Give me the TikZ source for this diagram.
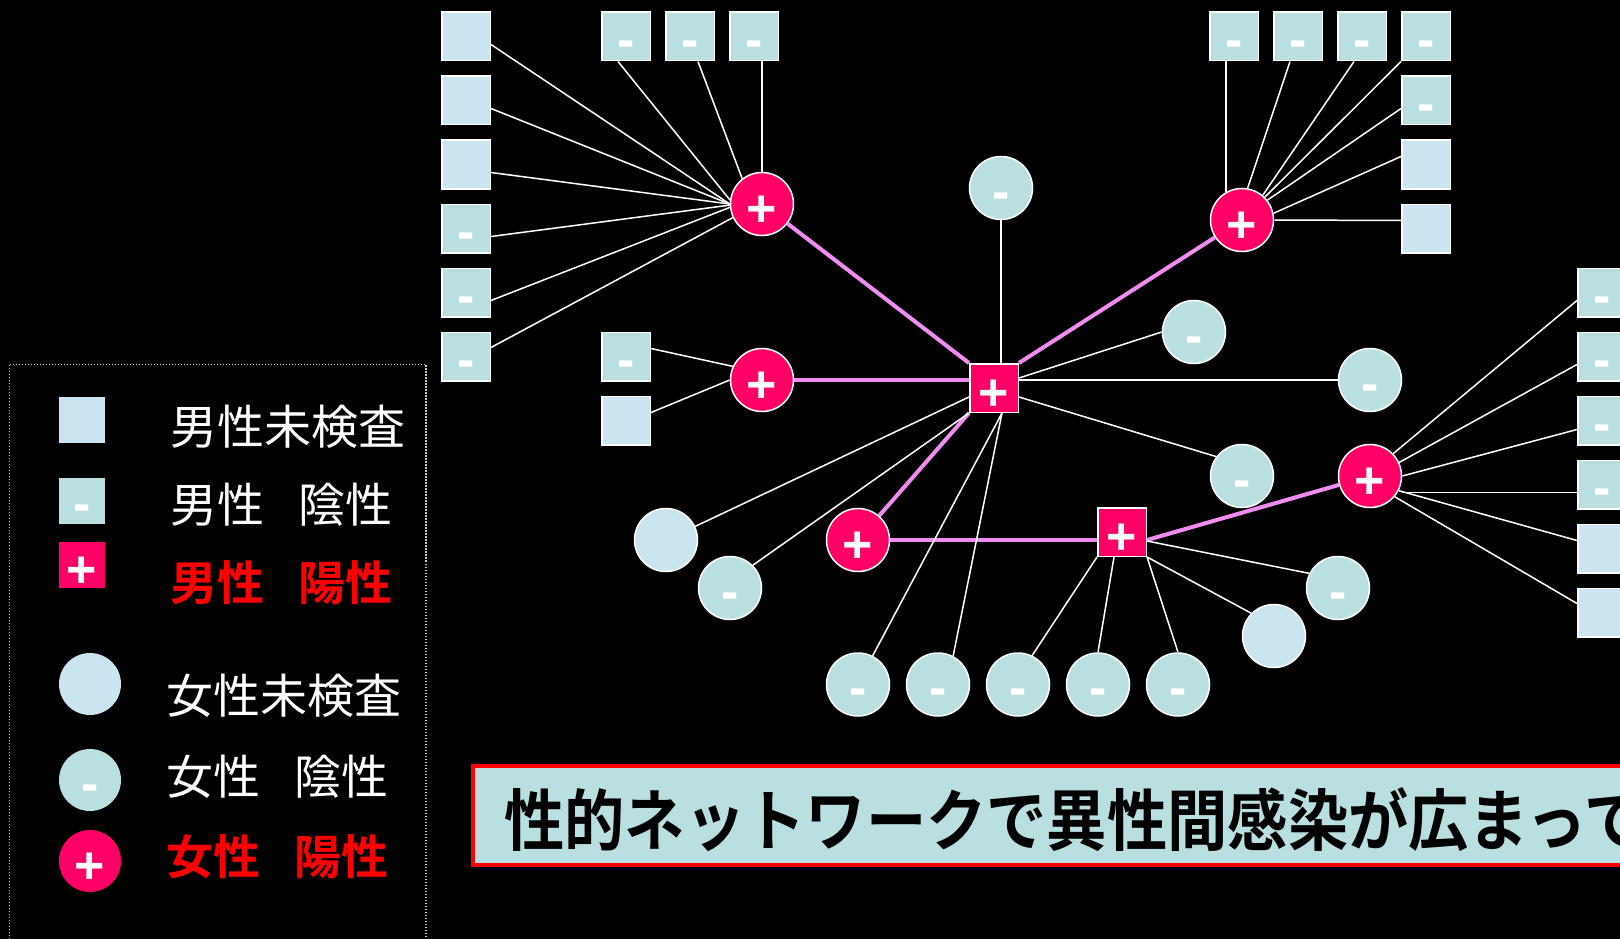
\documentclass[tikz,border=0pt]{standalone}
\usepackage{fontspec}
\usetikzlibrary{shapes.geometric}
\newfontfamily\jpl{Noto Sans CJK JP}[BoldFont={Noto Sans CJK JP Bold}]
\newfontfamily\jpban{Noto Sans CJK JP Bold}[FakeStretch=0.9]
\newfontfamily\symfnt{Liberation Sans}
\definecolor{hot}{HTML}{FF0066}
\definecolor{ltb}{HTML}{CAE5F0}
\definecolor{tea}{HTML}{B9DFE1}
\definecolor{pnk}{HTML}{F08CF0}
\definecolor{lred}{HTML}{FF0000}
\pgfdeclarelayer{bg}
\pgfdeclarelayer{edges}
\pgfsetlayers{bg,edges,main}
\tikzset{
  sq/.style={rectangle,draw=white,line width=1.5pt,minimum size=48.5pt,inner sep=0pt},
  ci/.style={circle,draw=white,line width=1.5pt,minimum size=63pt,inner sep=0pt},
  sym/.style={text=white,font=\symfnt\bfseries\fontsize{52}{52}\selectfont,inner sep=0pt},
  un/.style={fill=ltb},
  ng/.style={fill=tea,label={[sym,yshift=-13pt]center:-}},
  ps/.style={fill=hot,label={[sym,yshift=-7pt]center:+}},
  lsq/.style={rectangle,minimum size=46pt,inner sep=0pt},
  lel/.style={circle,minimum size=62pt,inner sep=0pt},
  lt/.style={text=white,font=\jpl\fontsize{47}{47}\selectfont,inner sep=0pt,anchor=west},
  ltr/.style={text=lred,font=\jpl\bfseries\fontsize{47}{47}\selectfont,inner sep=0pt,anchor=west},
  wl/.style={draw=white,line width=1.5pt},
  pl/.style={draw=pnk,line width=4pt},
}
\begin{document}
\begin{tikzpicture}[x=1pt,y=-1pt]
\useasboundingbox (0,0) rectangle (1620,939);
\begin{pgfonlayer}{bg}
\fill[black] (0,0) rectangle (1620,939);
\end{pgfonlayer}

% legend
\draw[white!80!black,line width=1.2pt,dash pattern=on 1.5pt off 1.5pt] (9.5,364.5) rectangle (426,960);
\node[lsq,fill=ltb] (ls1) at (82,420) {};
\node[lsq,fill=tea,label={[sym,yshift=-13pt]center:-}] (ls2) at (82,500.5) {};
\node[lsq,fill=hot,label={[sym,yshift=-8pt]center:+}] (ls3) at (82,564.5) {};
\node[lel,fill=ltb] (le1) at (90,684) {};
\node[lel,fill=tea,label={[sym,yshift=-13pt]center:-}] (le2) at (90,780) {};
\node[lel,fill=hot,label={[sym,yshift=-7pt]center:+}] (le3) at (90,861) {};
\node[lt] (t1) at (170,427) {男性未検査};
\node[lt] (t2) at (170,505) {男性　\kern-13pt陰性};
\node[ltr] (t3) at (170,583) {男性　\kern-13pt陽性};
\node[lt] (t4) at (166,696) {女性未検査};
\node[lt] (t5) at (166,776.5) {女性　\kern-13pt陰性};
\node[ltr] (t6) at (166,857) {女性　\kern-13pt陽性};

% banner
\draw[draw=lred,line width=4.5pt,fill=tea] (473,766) rectangle (1660,865);
\node[anchor=west,inner sep=0pt,font=\jpban\fontsize{67}{67}\selectfont] (ban) at (504,820) {性的ネットワークで異性間感染が広まって};

% network nodes
\node[sq,un] (L1) at (466,36.5) {};
\node[sq,un] (L2) at (466,100.5) {};
\node[sq,un] (L3) at (466,164.5) {};
\node[sq,ng] (L4) at (466,228.5) {};
\node[sq,ng] (L5) at (466,292.5) {};
\node[sq,ng] (L6) at (466,356.5) {};
\node[sq,ng] (T1) at (626,36.5) {};
\node[sq,ng] (T2) at (690,36.5) {};
\node[sq,ng] (T3) at (754,36.5) {};
\node[ci,ps] (A) at (762,204) {};
\node[ci,ps] (B) at (762,380) {};
\node[sq,ng] (S1) at (626,356.5) {};
\node[sq,un] (S2) at (626,420.5) {};
\node[sq,ps] (H) at (994,388) {};
\node[ci,ng] (TC) at (1001,188) {};
\node[ci,ps] (K) at (1242,220) {};
\node[sq,ng] (R1) at (1234,36.5) {};
\node[sq,ng] (R2) at (1298,36.5) {};
\node[sq,ng] (R3) at (1362,36.5) {};
\node[sq,ng] (R4) at (1426,36.5) {};
\node[sq,ng] (R5) at (1426,100.5) {};
\node[sq,un] (R6) at (1426,164.5) {};
\node[sq,un] (R7) at (1426,228.5) {};
\node[ci,ng] (C1) at (1194,332) {};
\node[ci,ng] (C2) at (1370,380) {};
\node[ci,ng] (C3) at (1242,476) {};
\node[ci,un] (W1) at (666,540) {};
\node[ci,ng] (C4) at (730,588) {};
\node[ci,ps] (D) at (858,540) {};
\node[sq,ps] (E) at (1122,532) {};
\node[ci,ps] (F) at (1370,476) {};
\node[ci,ng] (B1) at (858,684.5) {};
\node[ci,ng] (B2) at (938,684.5) {};
\node[ci,ng] (B3) at (1018,684.5) {};
\node[ci,ng] (B4) at (1098,684.5) {};
\node[ci,ng] (B5) at (1178,684.5) {};
\node[ci,ng] (C5) at (1338,588) {};
\node[ci,un] (W2) at (1274,636) {};
\node[sq,ng] (Q1) at (1602,292.5) {};
\node[sq,ng] (Q2) at (1602,356.5) {};
\node[sq,ng] (Q3) at (1602,420.5) {};
\node[sq,ng] (Q4) at (1602,484.5) {};
\node[sq,un] (Q5) at (1602,548.5) {};
\node[sq,un] (Q6) at (1602,612.5) {};

\begin{pgfonlayer}{edges}
% pink links
\draw[pl] (A) -- (H.north west);
\draw[pl] (B.east) -- (B.east -| H.west);
\draw[pl] (K) -- (H.north east);
\draw[pl] (H.south west) -- (D);
\draw[pl] (D.east) -- (D.east -| E.west);
\draw[pl] ([yshift=-8pt]E.east) -- (F);
% A
\draw[wl] ([yshift=-8pt]L1.east) -- (A.west);
\draw[wl] ([yshift=-8pt]L2.east) -- (A.west);
\draw[wl] ([yshift=-8pt]L3.east) -- (A.west);
\draw[wl] ([yshift=-8pt]L4.east) -- (A.182);
\draw[wl] ([yshift=-8pt]L5.east) -- (A.186);
\draw[wl] ([yshift=9pt]L6.east) -- (A.205);
\draw[wl] ([xshift=-8pt]T1.south) -- (A.173);
\draw[wl] ([xshift=8pt]T2.south) -- (A.128);
\draw[wl] (A.north |- T3.south) -- (A.north);
% B
\draw[wl] ([yshift=8pt]S1.east) -- (B.155);
\draw[wl] ([yshift=8pt]S2.east) -- (B.west);
% K
\draw[wl] (K.120 |- R1.south) -- (K.120);
\draw[wl] ([xshift=-8pt]R2.south) -- (K.80);
\draw[wl] ([xshift=-8pt]R3.south) -- (K.50);
\draw[wl] (R4.south west) -- (K.45);
\draw[wl] ([yshift=-8pt]R5.west) -- (K.38);
\draw[wl] ([yshift=8pt]R6.west) -- (K.12);
\draw[wl] ([yshift=8pt]R7.west) -- (K.east);
% H
\draw[wl] (TC.south) -- (TC.south |- H.north);
\draw[wl] ([yshift=10pt]H.east) -- (C1.west);
\draw[wl] ([yshift=8pt]H.east) -- (C2.west);
\draw[wl] ([yshift=-9pt]H.east) -- (C3.143);
\draw[wl] ([yshift=-9pt]H.west) -- (W1.25);
\draw[wl] (H.south west) -- (C4.45);
\draw[wl] ([xshift=8pt]H.south) -- (B1.63);
\draw[wl] ([xshift=8pt]H.south) -- (B2.62);
% E
\draw[wl] (E.south west) -- (B3.64);
\draw[wl] ([xshift=-8pt]E.south) -- (B4.north);
\draw[wl] (E.south east) -- (B5.north);
\draw[wl] ([yshift=-9pt]E.east) -- (C5.153);
\draw[wl] (E.south east) -- (W2.135);
% F
\draw[wl] ([yshift=-8pt]Q1.west) -- (F.44);
\draw[wl] ([yshift=-8pt]Q2.west) -- (F.25);
\draw[wl] ([yshift=-9pt]Q3.west) -- (F.east);
\draw[wl] ([yshift=-8pt]Q4.west) -- ([yshift=-8pt]Q4.west -| F.east);
\draw[wl] ([yshift=8pt]Q5.west) -- (F.333);
\draw[wl] ([yshift=9pt]Q6.west) -- (F.320);
\end{pgfonlayer}
\end{tikzpicture}
\end{document}
